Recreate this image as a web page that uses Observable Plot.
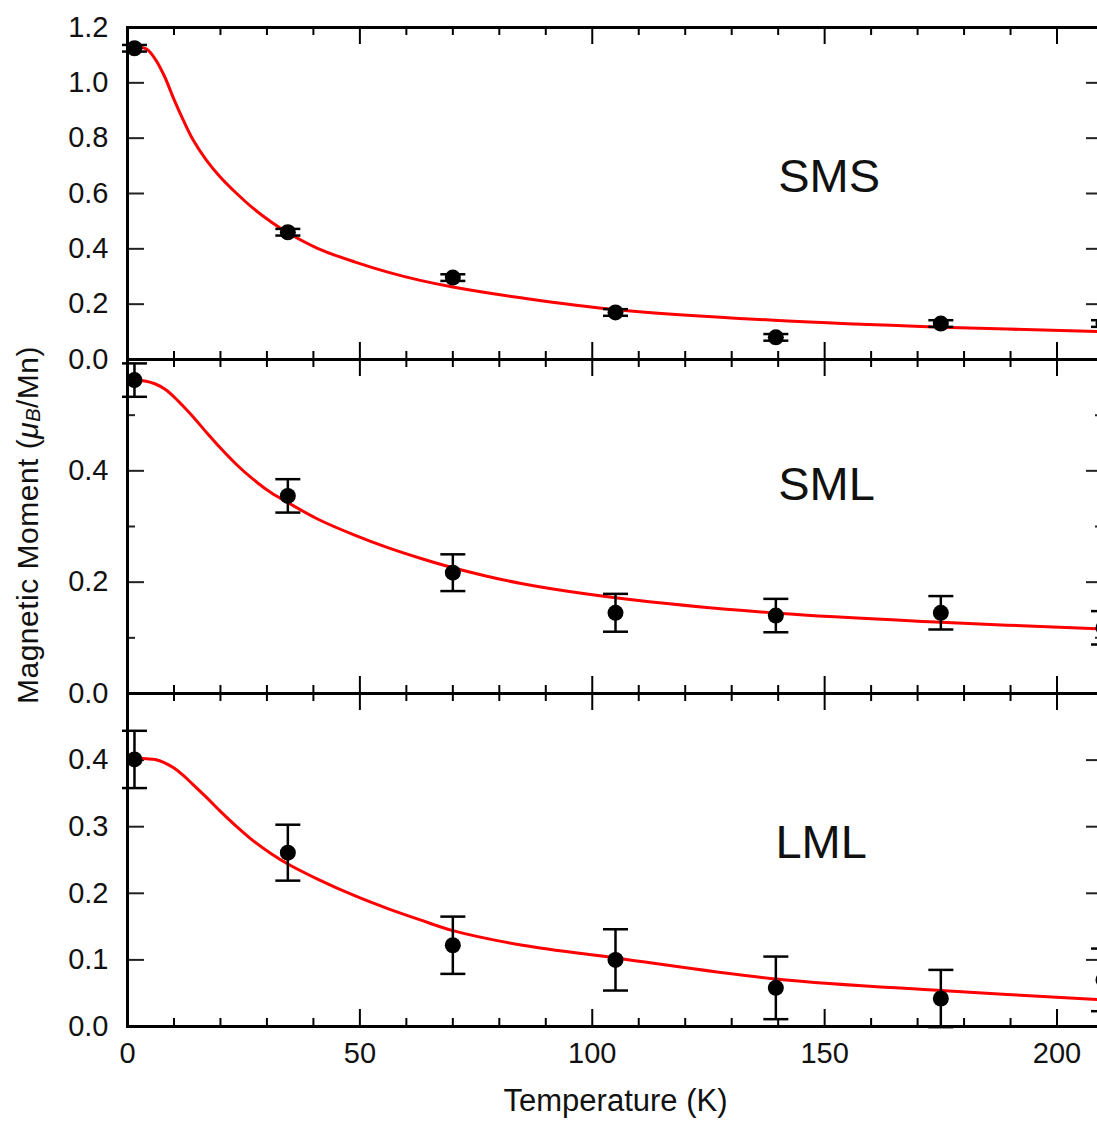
<!DOCTYPE html>
<html><head><meta charset="utf-8">
<script src="https://cdn.jsdelivr.net/npm/d3@7"></script>
<script src="https://cdn.jsdelivr.net/npm/@observablehq/plot@0.6"></script>
<style>
html,body{margin:0;padding:0;background:#fff;overflow:hidden;}
#chart{position:relative;width:1097px;height:1121px;overflow:hidden;background:#fff;}
#chart svg{position:absolute;left:0;top:0;overflow:visible;background:transparent;max-width:none !important;}
</style></head><body><div id="chart"></div>
<script>
// ---- data ----
const temperatures = [1.5, 34.5, 70, 105, 139.5, 175, 210];
const smsMoment = [1.125, 0.46, 0.296, 0.17, 0.08, 0.13, 0.13];
const smsError  = [0.012, 0.012, 0.012, 0.012, 0.012, 0.012, 0.012];
const smlMoment = [0.563, 0.355, 0.217, 0.145, 0.14, 0.145, 0.118];
const smlError  = [0.03, 0.03, 0.033, 0.034, 0.03, 0.03, 0.03];
const lmlMoment = [0.401, 0.261, 0.122, 0.10, 0.058, 0.042, 0.07];
const lmlError  = [0.043, 0.042, 0.043, 0.046, 0.047, 0.043, 0.047];

const fitTemps = [0, 4, 6, 8, 10, 12, 14, 17, 20, 23.5, 27, 31, 34.5, 41, 49, 56, 63, 70, 85, 105, 140, 175, 210];
const smsFit = [1.13, 1.123, 1.085, 1.022, 0.94, 0.865, 0.797, 0.72, 0.659, 0.6, 0.547, 0.496, 0.458, 0.401, 0.352, 0.316, 0.286, 0.262, 0.222, 0.18, 0.141, 0.117, 0.101];
const smlFit = [0.563, 0.561, 0.556, 0.547, 0.533, 0.516, 0.498, 0.469, 0.441, 0.411, 0.385, 0.36, 0.343, 0.313, 0.284, 0.262, 0.243, 0.226, 0.197, 0.172, 0.144, 0.128, 0.116];
const lmlFit = [0.403, 0.402, 0.401, 0.396, 0.388, 0.377, 0.364, 0.344, 0.323, 0.3, 0.279, 0.259, 0.244, 0.221, 0.196, 0.177, 0.16, 0.144, 0.122, 0.103, 0.071, 0.054, 0.04];

const xMajorTicks = [0, 50, 100, 150, 200];
const xMinorTicks = [10, 20, 30, 40, 60, 70, 80, 90, 110, 120, 130, 140, 160, 170, 180, 190];

const smsYTicks = [0, 0.2, 0.4, 0.6, 0.8, 1.0, 1.2];
const smlYTicks = [0, 0.2, 0.4];
const smlYMinor = [0.1, 0.3, 0.5];
const lmlYTicks = [0, 0.1, 0.2, 0.3, 0.4];

const panelNames = ["SMS", "SML", "LML"];

// ---- layout ----
const W = 1110, H = 1121, ML = 127, FR = 1103;
const innerW = FR - ML;
const font = "'Liberation Sans', Arial, Helvetica, sans-serif";

const capSymbol = {
  draw(context, size) {
    const r = Math.sqrt(size / Math.PI);
    context.moveTo(-r, 0);
    context.lineTo(r, 0);
  }
};

function rows(vals, errs) {
  return temperatures.map((t, i) => ({t, v: vals[i], e: errs[i]}));
}
function fitRows(vals) {
  return fitTemps.map((t, i) => ({t, v: vals[i]}));
}

function panel({top, bottom, yDomain, yLabels, yMajor, yMinor, pts, fit, name, namePos, xAxis}) {
  const innerH = bottom - top;
  const marks = [
    Plot.tickX(xMajorTicks, {insetTop: innerH - 17, stroke: "#000", strokeWidth: 2}),
    Plot.tickX(xMinorTicks, {insetTop: innerH - 8, stroke: "#000", strokeWidth: 2}),
    Plot.tickX(xMajorTicks, {insetBottom: innerH - 17, stroke: "#000", strokeWidth: 2}),
    Plot.tickX(xMinorTicks, {insetBottom: innerH - 8, stroke: "#000", strokeWidth: 2}),
    Plot.tickY(yMajor, {insetRight: innerW - 17, stroke: "#222", strokeWidth: 2}),
    Plot.tickY(yMajor, {insetLeft: innerW - 17, stroke: "#222", strokeWidth: 2}),
    Plot.tickY(yMinor, {insetRight: innerW - 8, stroke: "#222", strokeWidth: 2}),
    Plot.tickY(yMinor, {insetLeft: innerW - 8, stroke: "#222", strokeWidth: 2}),
    Plot.axisY(yLabels, {anchor: "left", tickSize: 0, tickPadding: 19, fontSize: 29, fill: "#111", label: null, tickFormat: d3.format(".1f")}),
    Plot.line(fit, {x: "t", y: "v", stroke: "#ff0000", strokeWidth: 3, curve: "catmull-rom"}),
    Plot.ruleX(pts, {x: "t", y1: d => d.v - d.e, y2: d => d.v + d.e, stroke: "#000", strokeWidth: 2.5}),
    Plot.dot(pts, {x: "t", y: d => d.v - d.e, symbol: capSymbol, r: 12.5, fill: "none", stroke: "#000", strokeWidth: 2.5}),
    Plot.dot(pts, {x: "t", y: d => d.v + d.e, symbol: capSymbol, r: 12.5, fill: "none", stroke: "#000", strokeWidth: 2.5}),
    Plot.dot(pts, {x: "t", y: "v", r: 8, fill: "#000", stroke: "none"}),
    Plot.text([{t: namePos[0], v: namePos[1], label: name}], {x: "t", y: "v", text: "label", textAnchor: "start", lineAnchor: "middle", fontSize: 47, fill: "#111"}),
    Plot.frame({stroke: "#000", strokeWidth: 3})
  ];
  if (xAxis) {
    marks.push(Plot.axisX(xMajorTicks, {anchor: "bottom", tickSize: 0, tickPadding: 16, fontSize: 29, fill: "#111", label: null}));
    marks.push(Plot.text(["Temperature (K)"], {frameAnchor: "bottom", dy: 84, fontSize: 31, fill: "#111", text: d => d}));
  }
  return Plot.plot({
    width: W, height: H,
    marginLeft: ML, marginRight: W - FR,
    marginTop: top, marginBottom: H - bottom,
    style: {fontFamily: font, background: "transparent", overflow: "visible", maxWidth: "none"},
    x: {domain: [0, 210], axis: xAxis ? undefined : null},
    y: {domain: yDomain},
    marks
  });
}

const chart = document.getElementById("chart");

const p1 = panel({top: 27, bottom: 359, yDomain: [0, 1.2], yLabels: smsYTicks, yMajor: smsYTicks, yMinor: [],
  pts: rows(smsMoment, smsError), fit: fitRows(smsFit), name: panelNames[0], namePos: [140, 0.661], xAxis: false});
const p2 = panel({top: 359, bottom: 693, yDomain: [0, 0.6], yLabels: smlYTicks, yMajor: [0, 0.2, 0.4, 0.6], yMinor: smlYMinor,
  pts: rows(smlMoment, smlError), fit: fitRows(smlFit), name: panelNames[1], namePos: [140, 0.375], xAxis: false});
const p3 = panel({top: 693, bottom: 1026, yDomain: [0, 0.5], yLabels: lmlYTicks, yMajor: [0, 0.1, 0.2, 0.3, 0.4, 0.5], yMinor: [],
  pts: rows(lmlMoment, lmlError), fit: fitRows(lmlFit), name: panelNames[2], namePos: [139.4, 0.276], xAxis: true});

chart.appendChild(p1);
chart.appendChild(p2);
chart.appendChild(p3);

const t = d3.select(p2).append("text")
  .attr("transform", "translate(27,525) rotate(-90)")
  .attr("text-anchor", "middle")
  .attr("dominant-baseline", "central")
  .attr("font-size", 30)
  .attr("letter-spacing", 0.5)
  .attr("font-family", font)
  .attr("fill", "#111");
t.append("tspan").text("Magnetic Moment (");
t.append("tspan").attr("font-style", "italic").text("μ");
t.append("tspan").attr("font-style", "italic").attr("font-size", 20).attr("dy", 6).text("B");
t.append("tspan").attr("dy", -6).text("/Mn)");
</script>
</body></html>
